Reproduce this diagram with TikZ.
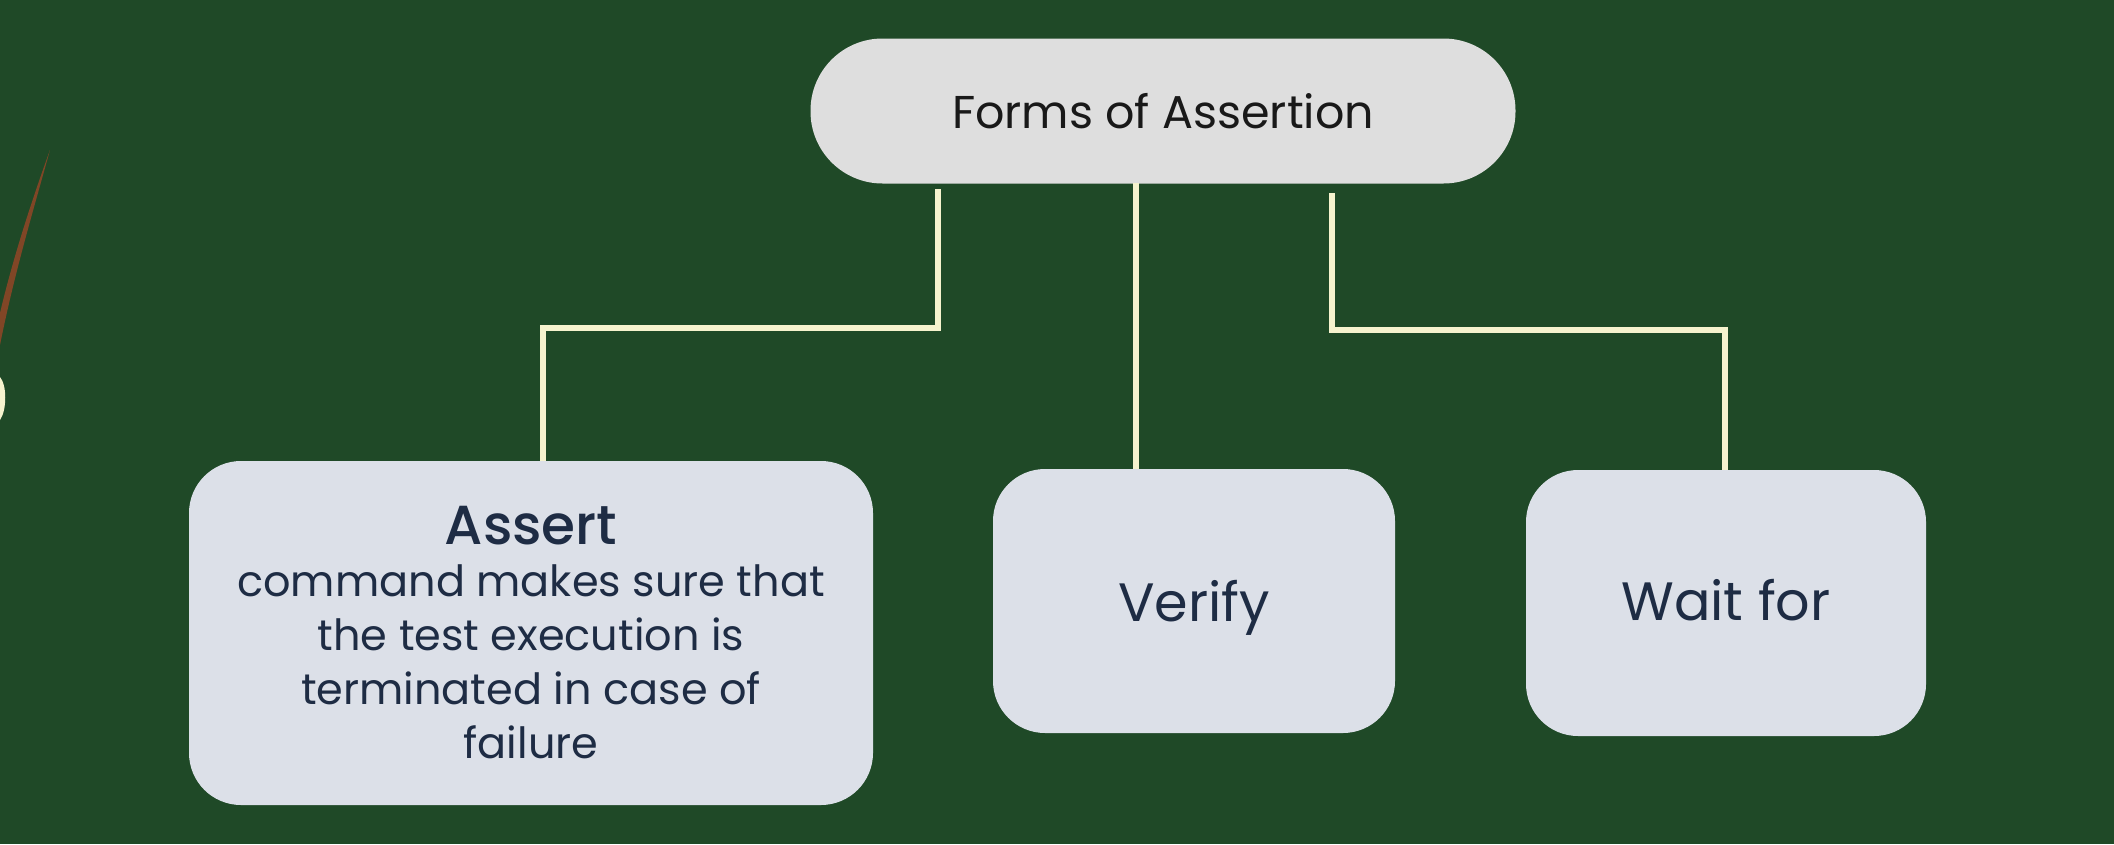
\documentclass[tikz,border=0pt]{standalone}
\usepackage{fontspec}
\setmainfont{Poppins}[BoldFont=Poppins Medium]
\definecolor{bg}{RGB}{31,73,39}
\definecolor{topfill}{RGB}{222,222,222}
\definecolor{boxfill}{RGB}{220,224,232}
\definecolor{navy}{RGB}{30,44,68}
\definecolor{cream}{RGB}{246,243,206}
\definecolor{brown}{RGB}{128,70,38}
\tikzset{
  topnode/.style={fill=topfill, rounded corners=72pt, minimum width=705pt, minimum height=145pt, inner sep=0pt, text=black!90, font=\fontsize{46}{52}\selectfont},
  leafbox/.style={fill=boxfill, rounded corners=52pt, inner sep=0pt, text=navy, align=center},
  conn/.style={draw=cream, line width=6pt, line join=miter}
}
\begin{document}
\begin{tikzpicture}[x=1pt,y=-1pt]
\fill[bg] (0,0) rectangle (2114,844);
\useasboundingbox (0,0) rectangle (2114,844);
% brush stroke on the left
\fill[brown] (50,150) .. controls (32,215) and (14,275) .. (0,345) -- (0,313) .. controls (12,262) and (30,205) .. (50,150) -- cycle;
\fill[cream] (0,377) .. controls (7,385) and (7,410) .. (0,420) -- cycle;

\node[topnode] (top) at (1163,111) {Forms of Assertion};

\node[leafbox, minimum width=684pt, minimum height=344pt, font=\fontsize{43}{54}\selectfont] (assert) at (531,633)
  {{\fontsize{55}{55}\selectfont\bfseries Assert}\\[-2pt]
   command makes sure that\\the test execution is\\terminated in case of\\failure};
\node[leafbox, minimum width=402pt, minimum height=264pt, text depth=0pt, font=\fontsize{54}{60}\selectfont] (verify) at (1194,601) {Verify};
\node[leafbox, minimum width=400pt, minimum height=266pt, text height=34pt, text depth=0pt, font=\fontsize{54}{60}\selectfont] (wait) at (1726,603) {Wait for};

\coordinate (la) at (938,189);
\coordinate (lb) at (543,328);
\coordinate (ma) at (1136,183);
\coordinate (ra) at (1332,193);
\coordinate (rb) at (1725,330);
\draw[conn] (la) |- (lb) -- (lb |- assert.north);
\draw[conn] (ma) -- (ma |- verify.north);
\draw[conn] (ra) |- (rb) -- (rb |- wait.north);
\end{tikzpicture}
\end{document}
